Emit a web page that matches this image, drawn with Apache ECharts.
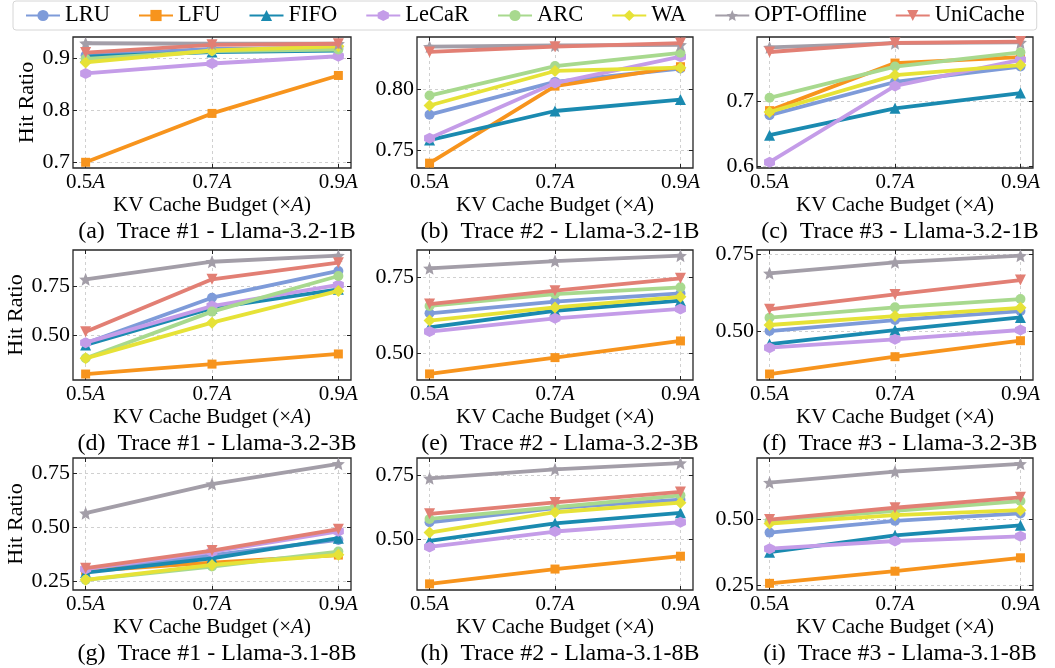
<!DOCTYPE html>
<html><head><meta charset="utf-8">
<script src="https://cdn.jsdelivr.net/npm/echarts@6/dist/echarts.min.js"></script>
<style>html,body{margin:0;padding:0;background:#fff}#c{width:1055px;height:668px}</style>
</head><body><div id="c"></div>
<script>
const methods = ['LRU','LFU','FIFO','LeCaR','ARC','WA','OPT-Offline','UniCache'];
const budgets = [0.5, 0.7, 0.9];
const panelTitles = [
  '(a)  Trace #1 - Llama-3.2-1B','(b)  Trace #2 - Llama-3.2-1B','(c)  Trace #3 - Llama-3.2-1B',
  '(d)  Trace #1 - Llama-3.2-3B','(e)  Trace #2 - Llama-3.2-3B','(f)  Trace #3 - Llama-3.2-3B',
  '(g)  Trace #1 - Llama-3.1-8B','(h)  Trace #2 - Llama-3.1-8B','(i)  Trace #3 - Llama-3.1-8B'
];
// values per panel (a..i), each [0.5A, 0.7A, 0.9A]
const LRU = [
  [0.906,0.918,0.920],[0.779,0.806,0.817],[0.679,0.730,0.7536],
  [0.4616,0.691,0.8255],[0.6316,0.670,0.697],[0.502,0.5375,0.5665],
  [0.300,0.370,0.440],[0.566,0.621,0.654],[0.4495,0.4937,0.5215]
];
const LFU = [
  [0.700,0.794,0.867],[0.739,0.8025,0.8185],[0.686,0.759,0.768],
  [0.307,0.357,0.408],[0.432,0.4857,0.5406],[0.3637,0.4195,0.471],
  [0.296,0.335,0.370],[0.3263,0.384,0.434],[0.2588,0.3043,0.3548]
];
const FIFO = [
  [0.903,0.912,0.915],[0.758,0.782,0.7914],[0.6484,0.6896,0.713],
  [0.453,0.638,0.733],[0.5855,0.640,0.673],[0.4603,0.5054,0.546],
  [0.289,0.355,0.448],[0.4934,0.562,0.6026],[0.376,0.4394,0.477]
];
const LeCaR = [
  [0.871,0.890,0.904],[0.7596,0.805,0.8268],[0.607,0.724,0.764],
  [0.465,0.649,0.755],[0.5713,0.615,0.646],[0.4485,0.4753,0.5054],
  [0.305,0.385,0.480],[0.470,0.530,0.566],[0.389,0.418,0.4356]
];
const ARC = [
  [0.899,0.914,0.917],[0.7947,0.819,0.830],[0.7057,0.7536,0.7755],
  [0.386,0.621,0.800],[0.6557,0.695,0.717],[0.545,0.5783,0.6051],
  [0.255,0.317,0.386],[0.579,0.625,0.671],[0.4924,0.5316,0.568]
];
const WA = [
  [0.892,0.915,0.923],[0.7865,0.815,0.8177],[0.684,0.7406,0.756],
  [0.386,0.5656,0.725],[0.6075,0.651,0.686],[0.5215,0.5504,0.577],
  [0.255,0.324,0.371],[0.526,0.605,0.642],[0.4836,0.515,0.534]
];
const OPT = [
  [0.929,0.928,0.928],[0.835,0.836,0.8365],[0.783,0.7896,0.7906],
  [0.7835,0.872,0.9026],[0.7796,0.8037,0.8213],[0.6878,0.7232,0.7446],
  [0.564,0.699,0.793],[0.737,0.772,0.796],[0.6376,0.679,0.708]
];
const UniCache = [
  [0.911,0.926,0.928],[0.8307,0.835,0.838],[0.776,0.790,0.792],
  [0.520,0.7835,0.867],[0.662,0.706,0.7467],[0.572,0.620,0.6663],
  [0.309,0.391,0.490],[0.599,0.643,0.684],[0.4987,0.543,0.582]
];
const yMins = [0.689,0.735,0.598,0.277,0.412,0.3445,0.208,0.3025,0.2337];
const yMaxs = [0.941,0.843,0.799,0.931,0.840,0.763,0.820,0.816,0.730];
const yTicks = [
  [0.7,0.8,0.9],[0.75,0.80],[0.6,0.7],
  [0.50,0.75],[0.50,0.75],[0.50,0.75],
  [0.25,0.50,0.75],[0.50,0.75],[0.25,0.50]
];
const yDecimals = [1,2,1,2,2,2,2,2,2];

const seriesValues = [LRU,LFU,FIFO,LeCaR,ARC,WA,OPT,UniCache];
const colors = ['#7e9bd9','#f7941d','#1a8ab0','#c49ce8','#a8d98e','#e6e237','#a39ea8','#e27f74'];
const symbols = ['circle','rect','triangle',
  'path://M0,-1 L0.866,-0.5 L0.866,0.5 L0,1 L-0.866,0.5 L-0.866,-0.5Z',
  'circle','diamond',
  'path://M0,-1 L0.2645,-0.364 L0.951,-0.309 L0.428,0.139 L0.588,0.809 L0,0.45 L-0.588,0.809 L-0.428,0.139 L-0.951,-0.309 L-0.2645,-0.364Z',
  'path://M-1,-0.85 L1,-0.85 L0,0.9Z'];
const symSizes = [10,9,11,11,10,12,13,11];

const FONT = 'Liberation Serif';
const lefts = [73,417,757], widths = [278,276,276];
const tops = [37,250,458], heights = [131,130,132];

const grids = [], xAxes = [], yAxes = [], series = [], titles = [];
const tickStyle = {color:'#222', width:1};
for (let p = 0; p < 9; p++) {
  const r = Math.floor(p/3), c = p%3;
  grids.push({left:lefts[c], top:tops[r], width:widths[c], height:heights[r],
    show:true, borderColor:'#262626', borderWidth:1.3, backgroundColor:'transparent',
    containLabel:false, outerBoundsMode:'none'});
  titles.push({text:panelTitles[p], left:lefts[c]+widths[c]/2, textAlign:'center',
    top:tops[r]+heights[r]+47,
    textStyle:{fontFamily:FONT, fontSize:24, fontWeight:'normal', color:'#000'}});
}
const dash = {type:[3,3], color:'#c4c4c4', width:0.8};
for (let p = 0; p < 9; p++) {
  xAxes.push({gridIndex:p, type:'value', min:0.48, max:0.92, position:'bottom',
    axisLine:{show:false},
    axisTick:{show:true, inside:true, length:4, customValues:budgets, lineStyle:tickStyle},
    axisLabel:{customValues:budgets, margin:4, color:'#000',
      formatter: v => '{n|' + v.toFixed(1) + '}{i|A}',
      rich:{n:{fontFamily:FONT,fontSize:21,color:'#000'}, i:{fontFamily:FONT,fontSize:21,fontStyle:'italic',color:'#000'}}},
    splitLine:{show:true, lineStyle:dash},
    name:'KV Cache Budget (×{i|A})', nameLocation:'middle', nameGap:27,
    nameTextStyle:{fontFamily:FONT, fontSize:21, color:'#000',
      rich:{i:{fontFamily:FONT,fontSize:21,fontStyle:'italic',color:'#000'}}}
  });
}
for (let p = 0; p < 9; p++) {
  xAxes.push({gridIndex:p, type:'value', min:0.48, max:0.92, position:'top',
    axisLine:{show:false}, axisLabel:{show:false}, splitLine:{show:false},
    axisTick:{show:true, inside:true, length:4, customValues:budgets, lineStyle:tickStyle}});
}
for (let p = 0; p < 9; p++) {
  const dec = yDecimals[p];
  yAxes.push({gridIndex:p, type:'value', min:yMins[p], max:yMaxs[p], position:'left',
    axisLine:{show:false},
    axisTick:{show:true, inside:true, length:4, customValues:yTicks[p], lineStyle:tickStyle},
    axisLabel:{customValues:yTicks[p], margin:3, fontFamily:FONT, fontSize:22, color:'#000',
      formatter: v => v.toFixed(dec)},
    splitLine:{show:true, lineStyle:dash},
    name: (p%3===0) ? 'Hit Ratio' : '', nameLocation:'middle', nameGap:31, nameRotate:90,
    nameTextStyle:{fontFamily:FONT, fontSize:22, color:'#000'}
  });
}
for (let p = 0; p < 9; p++) {
  yAxes.push({gridIndex:p, type:'value', min:yMins[p], max:yMaxs[p], position:'right',
    axisLine:{show:false}, axisLabel:{show:false}, splitLine:{show:false},
    axisTick:{show:true, inside:true, length:4, customValues:yTicks[p], lineStyle:tickStyle}});
}
for (let p = 0; p < 9; p++) {
  methods.forEach((m, k) => {
    series.push({type:'line', name:m, xAxisIndex:p, yAxisIndex:p,
      data: budgets.map((b,i) => [b, seriesValues[k][p][i]]),
      symbol:symbols[k], symbolSize:symSizes[k], showAllSymbol:true,
      lineStyle:{width:3.8, color:colors[k]}, itemStyle:{color:colors[k]},
      emphasis:{disabled:true}, animation:false, z:2+k*0.01});
  });
}
const chart = echarts.init(document.getElementById('c'), null, {renderer:'canvas'});
chart.setOption({
  animation:false,
  backgroundColor:'#fff',
  title: titles,
  legend:{data:methods, left:13, top:1, orient:'horizontal', itemWidth:34, itemHeight:14, itemGap:28,
    padding:[3,12,3,12], borderColor:'#d6d6d6', borderWidth:1, borderRadius:3,
    textStyle:{fontFamily:FONT, fontSize:22.5, color:'#000'}},
  grid: grids, xAxis: xAxes, yAxis: yAxes, series: series
});
</script></body></html>
